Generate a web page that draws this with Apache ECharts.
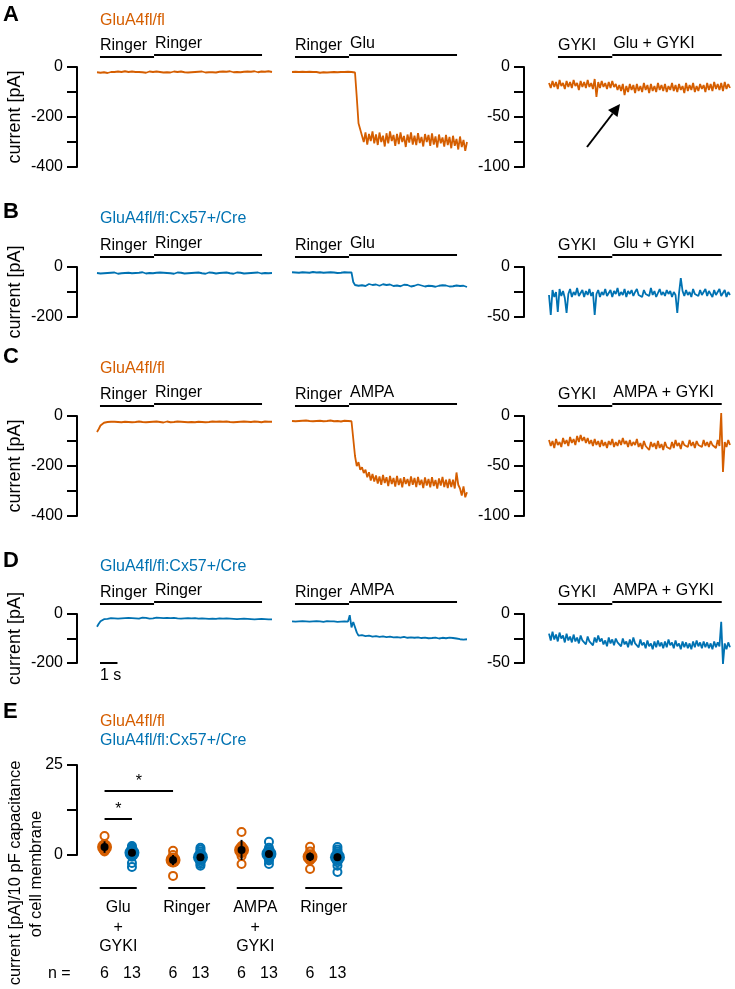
<!DOCTYPE html>
<html><head><meta charset="utf-8">
<script src="https://cdn.jsdelivr.net/npm/echarts@6/dist/echarts.min.js"></script>
<style>html,body{margin:0;padding:0;background:#fff}#c{width:735px;height:989px}</style>
</head><body><div id="c"></div>
<script>
// ---------------- DATA ----------------
const ORANGE = '#D55E00', BLUE = '#0072B2';
const DUR_LR = 10;      // s, left & middle traces
const DUR_R = 10.3;     // s, right traces
// solution-exchange bars (s)
const barTimesLR = [0.17, 3.26, 9.43];
const barTimesR = [0.51, 3.6, 9.83];
const stimGlu = [['Ringer', 'Ringer'], ['Ringer', 'Glu'], ['GYKI', 'Glu + GYKI']];
const stimAMPA = [['Ringer', 'Ringer'], ['Ringer', 'AMPA'], ['GYKI', 'AMPA + GYKI']];
const genotypes = ['GluA4fl/fl', 'GluA4fl/fl:Cx57+/Cre'];

// Panel A (GluA4fl/fl, Glu)
const aLeft = [
-21,-20,-23,-18,-21,-20,-24,-18,-20,-22,
-20,-22,-18,-23,-20,-21,-17,-22,-20,-21,
-18,-22,-20,-23,-20,-18,-21,-20,-23,-19,
-18,-21,-20,-22,-18,-21,-20,-19,-22,-18,
-21,-20,-22,-19,-18,-21,-20,-22,-18,-20,
-21,-18,-22,-20,-21,-18,-20,-22,-19,-21,
-18,-20,-22,-18,-21,-19,-21,-18,-22,-19,
-19,-21,-18,-22,-19,-20,-17,-20,-21,-18,
-20,-19,-21,-17,-19,-21,-18,-20,-19,-20,
-17,-19,-21,-18,-18,-20,-19,-21,-17,-19,
-20];
const aMid = [
-20,-22,-19,-21,-20,-23,-19,-21,-20,-22,
-19,-21,-20,-22,-20,-19,-23,-20,-21,-19,
-22,-20,-21,-19,-20,-22,-21,-19,-20,-23,
-20,-21,-19,-22,-20,-21,-22,-120,-225,-250,
-255,-300,-262,-310,-268,-296,-258,-305,-270,-312,
-262,-300,-275,-318,-265,-305,-258,-296,-272,-315,
-268,-308,-262,-300,-276,-320,-270,-302,-262,-310,
-275,-312,-265,-304,-280,-318,-268,-300,-272,-315,
-266,-310,-278,-322,-270,-305,-282,-318,-272,-312,
-280,-325,-275,-315,-288,-330,-278,-320,-292,-335,
-300];
const aRight = [
-16,-21,-14,-20,-15,-22,-13,-19,-16,-22,
-14,-20,-15,-21,-13,-19,-16,-23,-14,-20,
-15,-21,-13,-20,-16,-22,-12,-30,-15,-21,
-14,-20,-16,-22,-15,-21,-14,-20,-17,-23,
-18,-24,-17,-28,-19,-25,-17,-23,-18,-26,
-17,-24,-19,-25,-16,-23,-18,-26,-17,-24,
-19,-25,-16,-23,-18,-24,-17,-25,-19,-23,
-16,-24,-18,-25,-17,-23,-19,-26,-16,-24,
-18,-23,-16,-25,-19,-24,-17,-22,-18,-25,
-16,-23,-17,-24,-15,-22,-17,-23,-16,-24,
-15,-22,-17,-21];
// Panel B (GluA4fl/fl:Cx57+/Cre, Glu)
const bLeft = [
-24,-22,-26,-23,-25,-21,-24,-26,-23,-25,
-22,-24,-27,-23,-25,-22,-24,-26,-23,-24,
-25,-22,-24,-26,-23,-25,-21,-24,-26,-23,
-24,-22,-25,-27,-23,-24,-22,-25,-23,-26,
-24,-22,-25,-23,-27,-24,-22,-25,-23,-24,
-26,-23,-25,-22,-24,-26,-23,-25,-22,-24,
-25,-23,-27,-24,-22,-25,-23,-24,-26,-22,
-24,-25,-23,-26,-22,-24,-25,-23,-27,-24,
-22,-25,-23,-24,-26,-23,-25,-22,-24,-26,
-23,-25,-22,-24,-26,-23,-24,-22,-25,-23,
-24];
const bMid = [
-21,-23,-22,-20,-23,-22,-21,-24,-22,-21,
-23,-22,-20,-23,-22,-24,-21,-22,-23,-21,
-22,-24,-21,-23,-22,-21,-24,-22,-23,-22,
-21,-23,-22,-24,-22,-60,-72,-70,-75,-68,
-73,-70,-76,-71,-68,-74,-72,-77,-70,-73,
-75,-71,-69,-74,-72,-78,-70,-73,-76,-71,
-74,-70,-77,-73,-71,-76,-72,-74,-78,-71,
-75,-73,-70,-77,-74,-72,-78,-73,-75,-71,
-76,-74,-79,-72,-75,-77,-73,-80,-74,-76,
-78,-73,-77,-80,-74,-78,-76,-82,-75,-79,
-80];
const bRight = [
-28,-48,-23,-30,-25,-45,-22,-29,-24,-31,
-46,-27,-22,-30,-25,-28,-21,-29,-26,-23,
-30,-24,-28,-22,-29,-25,-48,-27,-23,-30,
-25,-28,-22,-29,-26,-23,-30,-24,-27,-21,
-29,-25,-28,-22,-30,-24,-27,-23,-29,-25,
-22,-28,-26,-30,-23,-27,-25,-29,-21,-28,
-24,-30,-26,-22,-28,-25,-29,-23,-27,-24,
-30,-25,-28,-46,-26,-11,-24,-29,-23,-28,
-25,-30,-22,-27,-26,-29,-23,-28,-25,-22,
-29,-24,-27,-30,-23,-28,-25,-22,-29,-26,
-23,-30,-25,-28];
// Panel C (GluA4fl/fl, AMPA)
const cLeft = [
-64,-52,-38,-30,-27,-25,-24,-26,-23,-25,
-23,-26,-24,-22,-25,-24,-23,-26,-24,-22,
-25,-23,-24,-26,-22,-25,-24,-23,-25,-22,
-24,-26,-23,-24,-22,-25,-24,-23,-26,-24,
-22,-24,-25,-23,-24,-26,-22,-24,-23,-25,
-24,-22,-25,-23,-24,-22,-25,-24,-23,-22,
-24,-23,-25,-22,-24,-23,-22,-25,-23,-24,
-22,-24,-23,-25,-22,-23,-24,-22,-25,-23,
-24,-22,-23,-25,-22,-24,-23,-22,-24,-23,
-22,-24,-23,-22,-25,-23,-22,-24,-23,-22,
-23];
const cMid = [
-20,-18,-21,-19,-20,-22,-19,-20,-18,-21,
-20,-19,-21,-18,-20,-22,-19,-20,-21,-19,
-20,-22,-18,-20,-21,-19,-20,-18,-22,-20,
-19,-21,-20,-18,-21,-20,-160,-200,-185,-215,
-205,-228,-215,-245,-225,-258,-232,-262,-238,-270,
-242,-275,-236,-268,-245,-280,-240,-272,-248,-282,
-240,-276,-250,-285,-245,-272,-252,-280,-242,-275,
-248,-284,-244,-276,-255,-288,-246,-278,-252,-285,
-245,-280,-256,-290,-250,-278,-244,-284,-255,-288,
-252,-284,-255,-290,-226,-275,-290,-318,-282,-325,
-305];
const cRight = [
-24,-30,-25,-32,-23,-29,-26,-31,-22,-28,
-24,-30,-21,-27,-23,-29,-20,-26,-19,-25,
-21,-27,-22,-28,-24,-30,-23,-29,-25,-31,
-24,-30,-26,-32,-25,-29,-23,-31,-26,-30,
-24,-29,-22,-28,-25,-31,-24,-30,-26,-29,
-23,-31,-27,-33,-25,-30,-28,-34,-26,-31,
-27,-33,-25,-32,-28,-34,-26,-31,-29,-33,
-26,-32,-24,-30,-27,-33,-25,-29,-28,-31,
-24,-30,-26,-32,-25,-29,-27,-31,-24,-30,
-26,-31,-25,-29,-27,-32,-24,-30,3,-56,
-26,-31,-24,-29];
// Panel D (GluA4fl/fl:Cx57+/Cre, AMPA)
const dLeft = [
-52,-40,-30,-24,-21,-19,-20,-18,-17,-19,
-18,-16,-19,-17,-18,-15,-17,-19,-16,-18,
-17,-15,-18,-16,-19,-17,-15,-18,-16,-17,
-19,-16,-18,-17,-15,-18,-16,-19,-17,-18,
-16,-18,-17,-19,-16,-17,-18,-16,-19,-17,
-18,-16,-17,-19,-18,-16,-17,-18,-19,-17,
-18,-17,-19,-18,-20,-17,-19,-18,-20,-19,
-18,-20,-19,-21,-18,-20,-19,-21,-20,-19,
-21,-19,-20,-22,-19,-21,-20,-22,-21,-20,
-22,-20,-21,-23,-20,-22,-21,-23,-22,-21,
-22];
const dMid = [
-30,-28,-31,-29,-30,-32,-29,-31,-30,-28,
-31,-29,-30,-32,-29,-31,-30,-28,-32,-30,
-29,-31,-30,-33,-30,-29,-32,-30,-31,-33,
-30,-32,-31,-5,-55,-33,-35,-75,-88,-92,
-86,-94,-90,-96,-88,-95,-92,-98,-90,-96,
-93,-99,-91,-97,-94,-100,-92,-98,-95,-99,
-94,-100,-96,-101,-93,-99,-97,-102,-95,-100,
-97,-103,-95,-101,-98,-104,-96,-100,-99,-105,
-98,-102,-96,-104,-100,-106,-97,-101,-99,-104,
-96,-102,-98,-104,-100,-97,-103,-99,-105,-101,
-103];
const dRight = [
-20,-27,-18,-26,-21,-28,-19,-25,-22,-29,
-20,-27,-23,-29,-21,-28,-24,-30,-22,-27,
-25,-31,-23,-28,-26,-32,-24,-29,-22,-28,
-25,-31,-27,-33,-24,-30,-26,-32,-25,-29,
-27,-33,-25,-31,-28,-34,-26,-32,-24,-30,
-28,-34,-26,-32,-29,-35,-27,-33,-30,-36,
-28,-34,-27,-33,-29,-35,-28,-34,-26,-32,
-29,-35,-27,-33,-30,-36,-28,-34,-29,-35,
-30,-36,-28,-34,-27,-33,-29,-35,-28,-34,
-29,-35,-30,-36,-28,-34,-29,-33,-8,-51,
-30,-36,-29,-34];

// Panel E summary
const eCategories = ['Glu\n+\nGYKI', 'Ringer', 'AMPA\n+\nGYKI', 'Ringer'];
const orangePoints = [[5.3,3,2.2,1.8,1.2,1.0],[1.2,0,-0.8,-1.3,-2,-5.8],[6.4,2.5,1.5,0.5,-0.3,-2.5],[2.3,1,0,-0.8,-1.5,-3.9]];
const bluePoints = [[2.5,2,1.8,1.5,1.2,1,0.8,0.5,0.2,0,-0.5,-2.2,-3.3],[2,1.5,1,0.5,0.2,0,-0.3,-0.8,-1.2,-1.5,-2,-2.5,-3],[3.7,2,1.5,1,0.8,0.5,0.2,0,-0.3,-0.8,-1.2,-1.5,-2.5],[2.2,1.5,1,0.5,0.2,0,-0.3,-0.6,-1,-1.5,-2,-3,-4.7]];
const orangeMean = [2.2, -1.4, 1.4, -0.5];
const orangeErr = [1.6, 1.4, 2.8, 1.2];
const blueMean = [0.6, -0.6, 0.3, -0.6];
const blueErr = [0.9, 0.9, 0.9, 1.0];
const nOrange = [6, 6, 6, 6];
const nBlue = [13, 13, 13, 13];
// significance: [x1, x2, level, text]
const sigBars = [[-0.2, 0.2, 10, '*'], [-0.2, 0.8, 17.8, '*']];

// ---------------- LAYOUT ----------------
const FONT = '"Liberation Sans", Arial, Helvetica, sans-serif';
const panels = [
  {letter:'A', zero:67, span:100, lmax:400, rmax:100, color:ORANGE, title:genotypes[0], stim:stimGlu, traces:[aLeft,aMid,aRight], letterY:15, titleY:21},
  {letter:'B', zero:267, span:50, lmax:200, rmax:50, color:BLUE, title:genotypes[1], stim:stimGlu, traces:[bLeft,bMid,bRight], letterY:212, titleY:219},
  {letter:'C', zero:416, span:100, lmax:400, rmax:100, color:ORANGE, title:genotypes[0], stim:stimAMPA, traces:[cLeft,cMid,cRight], letterY:357, titleY:369},
  {letter:'D', zero:614, span:49, lmax:200, rmax:50, color:BLUE, title:genotypes[1], stim:stimAMPA, traces:[dLeft,dMid,dRight], letterY:561, titleY:567}
];
const cols = [
  {left:97, width:175, dur:DUR_LR, side:'l', axis:true, offset:20, bars:barTimesLR},
  {left:292, width:175, dur:DUR_LR, side:'l', axis:false, offset:0, bars:barTimesLR},
  {left:549, width:181, dur:DUR_R, side:'r', axis:true, offset:25, bars:barTimesR}
];

const grids = [], xAxes = [], yAxes = [], series = [];
function axisStyle(show, labStep, interval, offset) {
  return {
    show: show, position:'left', offset: offset, interval: interval,
    axisLine:{show:true, onZero:false, lineStyle:{color:'#000', width:2}},
    axisTick:{show:true, length:10, lineStyle:{color:'#000', width:2}},
    axisLabel:{show:true, color:'#000', fontSize:16, fontFamily:FONT, margin:14, showMinLabel:true, showMaxLabel:true,
      formatter: v => (Math.abs(Math.round(v*100)) % Math.round(labStep*100) === 0 ? String(v) : '')},
    splitLine:{show:false}
  };
}
panels.forEach((p, pi) => {
  cols.forEach((c, ci) => {
    const gi = grids.length;
    const max = c.side === 'l' ? p.lmax : p.rmax;
    grids.push({left:c.left, top:p.zero, width:c.width, height:p.span});
    xAxes.push({type:'value', gridIndex:gi, min:0, max:c.dur, show:false});
    const interval = c.side === 'l' ? 100 : 25;
    const labStep = c.side === 'l' ? 200 : 50;
    yAxes.push(Object.assign({type:'value', gridIndex:gi, min:-max, max:0}, axisStyle(c.axis, labStep, interval, c.offset)));
    const vals = p.traces[ci];
    const dt = c.dur / (vals.length - 1);
    series.push({type:'line', xAxisIndex:gi, yAxisIndex:gi, data: vals.map((v, k) => [k*dt, v]),
      symbol:'none', showSymbol:false, clip:false, silent:true, animation:false,
      lineStyle:{color:p.color, width:1.8, join:'bevel'}});
  });
});
// Panel E grid
const EG = grids.length;
grids.push({left:84, top:765, width:274, height:90});
xAxes.push({type:'value', gridIndex:EG, min:-0.5, max:3.5, show:false});
yAxes.push(Object.assign({type:'value', gridIndex:EG, min:0, max:25}, axisStyle(true, 25, 12.5, 7)));
const OFF = 0.2;
function groupSeries(points, means, errs, color, dx) {
  series.push({type:'scatter', xAxisIndex:EG, yAxisIndex:EG, data: means.map((m,g)=>[g+dx, m]),
    symbol:'circle', symbolSize:15, itemStyle:{color:color, opacity:1}, clip:false, silent:true, animation:false, z:2});
  const pts = [];
  points.forEach((arr, g) => arr.forEach(v => pts.push([g+dx, v])));
  series.push({type:'scatter', xAxisIndex:EG, yAxisIndex:EG, data: pts, symbol:'circle', symbolSize:8,
    itemStyle:{color:'rgba(255,255,255,0)', borderColor:color, borderWidth:2, opacity:1}, clip:false, silent:true, animation:false, z:3});
  series.push({type:'custom', xAxisIndex:EG, yAxisIndex:EG, data: means.map((m,g)=>[g+dx, m, errs[g]]),
    encode:{x:0, y:1}, silent:true, animation:false, z:4, clip:false,
    renderItem: (params, api) => {
      const x = api.value(0), m = api.value(1), e = api.value(2);
      const p1 = api.coord([x, m - e]), p2 = api.coord([x, m + e]);
      return {type:'line', shape:{x1:p1[0], y1:p1[1], x2:p2[0], y2:p2[1]}, style:{stroke:'#000', lineWidth:2}};
    }});
  series.push({type:'scatter', xAxisIndex:EG, yAxisIndex:EG, data: means.map((m,g)=>[g+dx, m]),
    symbol:'circle', symbolSize:8, itemStyle:{color:'#000', opacity:1}, clip:false, silent:true, animation:false, z:5});
}
groupSeries(orangePoints, orangeMean, orangeErr, ORANGE, -OFF);
groupSeries(bluePoints, blueMean, blueErr, BLUE, OFF);

const chart = echarts.init(document.getElementById('c'), null, {renderer:'canvas', width:735, height:989});
chart.setOption({backgroundColor:'#fff', animation:false, grid:grids, xAxis:xAxes, yAxis:yAxes, series:series});

// ---------------- ANNOTATIONS ----------------
const G = [];
function txt(text, x, y, o) {
  o = o || {};
  G.push({type:'text', x:x, y:y, rotation:o.rot||0, z:100, silent:true,
    style:{text:text, fill:o.color||'#000', font:(o.weight||'normal')+' '+(o.size||16)+'px '+FONT,
      fontSize:o.size||16, fontFamily:FONT, fontWeight:o.weight||'normal',
      align:o.align||'left', textAlign:o.align||'left', verticalAlign:'middle', textVerticalAlign:'middle'}});
}
function seg(x1, y1, x2, y2, w) {
  G.push({type:'line', z:100, silent:true, shape:{x1:x1, y1:y1, x2:x2, y2:y2}, style:{stroke:'#000', lineWidth:w||2}});
}
panels.forEach((p, pi) => {
  txt(p.letter, 3, p.letterY, {size:22, weight:'bold'});
  txt(p.title, 100, p.titleY, {color:p.color});
  txt('current [pA]', 15, p.zero + p.span/2, {rot:Math.PI/2, align:'center', size:18});
  cols.forEach((c, ci) => {
    const gi = pi*3 + ci;
    const xs = c.bars.map(t => chart.convertToPixel({gridIndex:gi}, [t, 0])[0]);
    const y1 = p.zero - 10, y2 = p.zero - 12;
    seg(xs[0], y1, xs[1], y1);
    seg(xs[1], y2, xs[2], y2);
    txt(p.stim[ci][0], xs[0], y1 - 11.5);
    txt(p.stim[ci][1], xs[1] + 1, y2 - 11.5);
  });
});
// arrow in panel A right
seg(587, 147, 612.7, 113.5, 2);
G.push({type:'polygon', z:100, silent:true, shape:{points:[[620,104],[617.5,117],[608,110]]}, style:{fill:'#000'}});
// 1 s scale bar (panel D left grid)
{
  const a = chart.convertToPixel({gridIndex:9}, [0.17, -196]);
  const b = chart.convertToPixel({gridIndex:9}, [1.17, -196]);
  seg(a[0], 663, b[0], 663);
  txt('1 s', a[0], 676);
}
// Panel E annotations
txt('E', 3, 712, {size:22, weight:'bold'});
txt(genotypes[0], 100, 722, {color:ORANGE});
txt(genotypes[1], 100, 741, {color:BLUE});
txt('current [pA]/10 pF capacitance', 15, 873, {rot:Math.PI/2, align:'center', size:16.5});
txt('of cell membrane', 36, 874, {rot:Math.PI/2, align:'center', size:16.5});
eCategories.forEach((cat, g) => {
  const c = chart.convertToPixel({gridIndex:EG}, [g, 0]);
  const l = chart.convertToPixel({gridIndex:EG}, [g - 0.27, 0]);
  const r = chart.convertToPixel({gridIndex:EG}, [g + 0.27, 0]);
  seg(l[0], 888, r[0], 888);
  cat.split('\n').forEach((line, k) => txt(line, c[0], 908 + k*19.5, {align:'center'}));
  const po = chart.convertToPixel({gridIndex:EG}, [g - OFF, 0]);
  const pb = chart.convertToPixel({gridIndex:EG}, [g + OFF, 0]);
  txt(String(nOrange[g]), po[0], 974, {align:'center'});
  txt(String(nBlue[g]), pb[0], 974, {align:'center'});
});
txt('n =', 48, 974);
sigBars.forEach(s => {
  const a = chart.convertToPixel({gridIndex:EG}, [s[0], s[2]]);
  const b = chart.convertToPixel({gridIndex:EG}, [s[1], s[2]]);
  seg(a[0], a[1], b[0], b[1]);
  txt(s[3], (a[0]+b[0])/2, a[1] - 9, {align:'center'});
});
chart.setOption({graphic:{elements:G}});
</script>
</body></html>
